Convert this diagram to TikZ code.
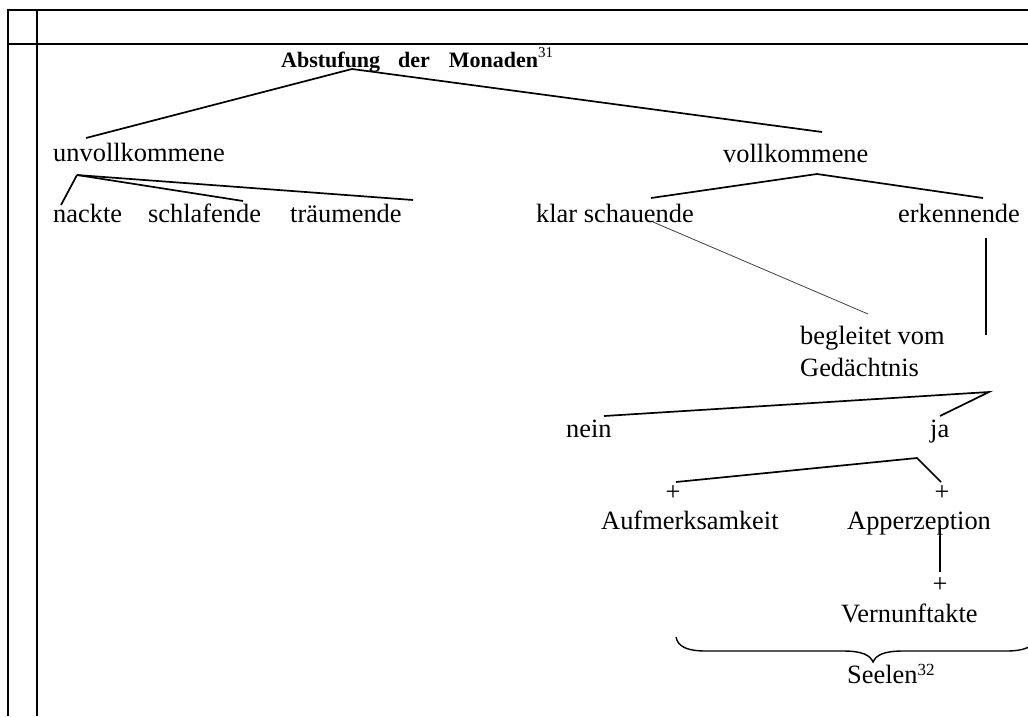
\documentclass[tikz,border=0pt]{standalone}
\usepackage{fontspec}
\setmainfont{Liberation Serif}
\begin{document}
\begin{tikzpicture}[x=1pt,y=-1pt,
  txt/.style={anchor=base west,inner sep=0pt,font=\fontsize{26.4}{30}\selectfont},
  plus/.style={anchor=center,inner sep=0pt,font=\fontsize{26.4}{30}\selectfont},
  titletxt/.style={anchor=base west,inner sep=0pt,font=\fontsize{22}{26}\selectfont\bfseries},
  frame/.style={line width=2.2pt},
  branch/.style={line width=1.7pt},
  faint/.style={line width=0.8pt,black!75}]
\useasboundingbox (0,0) rectangle (1028,716);
\clip (0,0) rectangle (1028,716);

% table frame
\draw[frame] (8,716) -- (8,10) -- (1030,10);
\draw[frame] (37,10) -- (37,716);
\draw[frame] (8,44) -- (1030,44);

% labels
\node[titletxt] (title) at (281,67) {Abstufung\hspace{18pt}der\hspace{19pt}Monaden{\fontsize{15}{15}\selectfont\mdseries\raisebox{10pt}{31}}};
\node[txt] (unv) at (53,161) {unvollkommene};
\node[txt] (vol) at (723,162) {vollkommene};
\node[txt] (nackte) at (53,222) {nackte};
\node[txt] (schlaf) at (148,222) {schlafende};
\node[txt] (traum) at (290,222) {träumende};
\node[txt] (klar) at (536,222) {klar schauende};
\node[txt] (erk) at (898,222) {erkennende};
\node[txt] (begl) at (800,344) {begleitet vom};
\node[txt] (gedae) at (800,376) {Gedächtnis};
\node[txt] (nein) at (566,437) {nein};
\node[txt] (ja) at (930,437) {ja};
\node[plus] (p1) at (673,493) {+};
\node[plus] (p2) at (942,493) {+};
\node[txt] (aufm) at (601,529) {Aufmerksamkeit};
\node[txt] (apper) at (847,529) {Apperzeption};
\node[plus] (p3) at (940,585) {+};
\node[txt] (vern) at (841,622) {Vernunftakte};
\node[txt] (seelen) at (847,683) {Seelen{\fontsize{17}{17}\selectfont\raisebox{8pt}{32}}};

% branch points
\coordinate (top) at (352,69);
\coordinate (topL) at (86,138);
\coordinate (topR) at (822,132);
\coordinate (unvJ) at (77,175);
\coordinate (nackteE) at (61,205);
\coordinate (schlafE) at (243,201);
\coordinate (traumE) at (413,200);
\coordinate (volJ) at (817,174);
\coordinate (klarE) at (651,198);
\coordinate (erkE) at (983,198);
\coordinate (klarS) at (653,222);
\coordinate (beglE) at (868,314);
\coordinate (erkS) at (986,238);
\coordinate (erkT) at (986,335);
\coordinate (gedJ) at (989,392);
\coordinate (neinE) at (604,416);
\coordinate (jaE) at (940,416);
\coordinate (jaJ) at (917,458);
\coordinate (aufmE) at (676,482);
\coordinate (apperE) at (941,482);
\coordinate (apperS) at (940,525);
\coordinate (apperT) at (940,572);

% tree connectors
\draw[branch] (topL) -- (top) -- (topR);
\draw[branch] (unvJ) -- (nackteE);
\draw[branch] (unvJ) -- (schlafE);
\draw[branch] (unvJ) -- (traumE);
\draw[branch] (klarE) -- (volJ) -- (erkE);
\draw[faint] (klarS) -- (beglE);
\draw[branch] (erkS) -- (erkT);
\draw[branch] (neinE) -- (gedJ) -- (jaE);
\draw[branch] (aufmE) -- (jaJ) -- (apperE);
\draw[branch] (apperS) -- (apperT);

% brace over the souls
\draw[line width=1.4pt] (676,637) .. controls (678,648) and (690,651) .. (706,651)
  -- (843,651) .. controls (862,651) and (870,655) .. (873,662)
  .. controls (876,655) and (884,651) .. (903,651)
  -- (1006,651) .. controls (1022,651) and (1034,648) .. (1036,637);
\end{tikzpicture}
\end{document}
